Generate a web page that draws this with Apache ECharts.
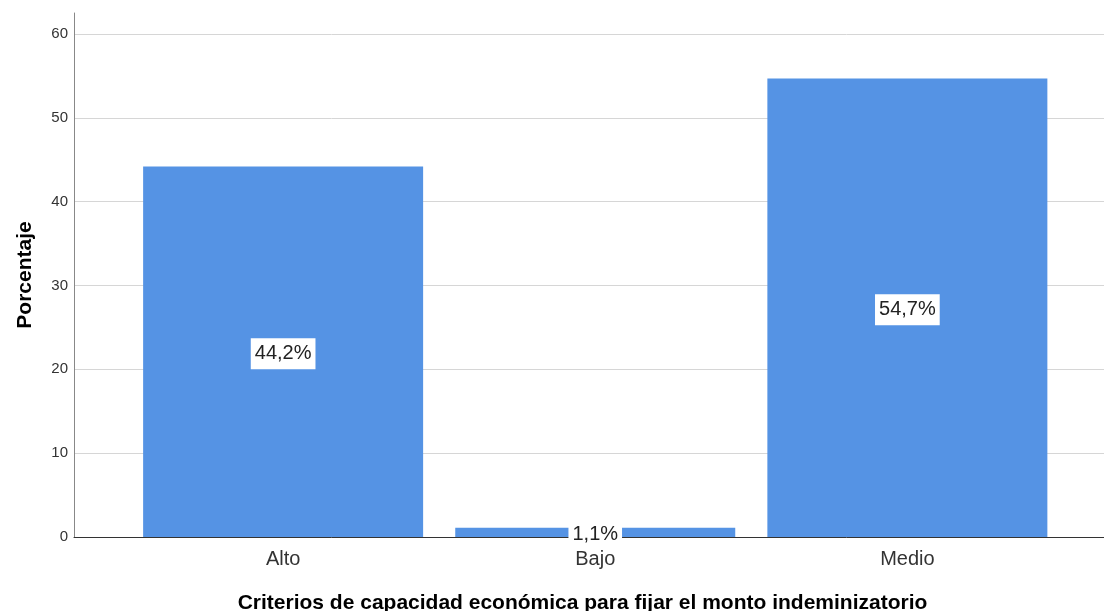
<!DOCTYPE html>
<html>
<head>
<meta charset="utf-8">
<script src="https://cdn.jsdelivr.net/npm/echarts@6/dist/echarts.min.js"></script>
<style>html,body{margin:0;padding:0;background:#fff}#c{width:1104px;height:611px}</style>
</head>
<body>
<div id="c"></div>
<script>
const categories = ['Alto', 'Bajo', 'Medio'];
const percentages = [44.2, 1.1, 54.7];
const yTicks = [0, 10, 20, 30, 40, 50, 60];
const xTitle = 'Criterios de capacidad económica para fijar el monto indeminizatorio';
const yTitle = 'Porcentaje';

const chart = echarts.init(document.getElementById('c'));
const positions = categories.map((_, i) => i);
chart.setOption({
  animation: false,
  grid: { left: 74, right: 0, top: 13, bottom: 74, containLabel: false, outerBoundsMode: 'none' },
  xAxis: {
    type: 'value', min: -0.67, max: 2.63,
    name: xTitle, nameLocation: 'middle', nameGap: 56,
    nameTextStyle: { fontFamily: 'Liberation Sans, Arial', fontWeight: 'bold', fontSize: 21, color: '#000', padding: [0, 13, 0, 0] },
    axisLine: { show: true, onZero: false, lineStyle: { color: '#333', width: 1 } },
    axisTick: { show: false },
    splitLine: { show: false },
    axisLabel: {
      customValues: positions,
      formatter: v => categories[Math.round(v)],
      fontFamily: 'Liberation Sans, Arial', fontSize: 20, color: '#333', margin: 12
    }
  },
  yAxis: {
    type: 'value', min: 0, max: 62.5, interval: 10,
    name: yTitle, nameLocation: 'middle', nameGap: 38, nameRotate: 90,
    nameTextStyle: { fontFamily: 'Liberation Sans, Arial', fontWeight: 'bold', fontSize: 21, color: '#000' },
    axisLine: { show: true, onZero: false, lineStyle: { color: '#888', width: 1 } },
    axisTick: { show: false },
    axisLabel: { showMaxLabel: false, fontFamily: 'Liberation Sans, Arial', fontSize: 15, color: '#333', margin: 6 },
    splitLine: { show: true, lineStyle: { color: ['#d6d6d6','#d6d6d6','#d6d6d6','#d6d6d6','#d6d6d6','#d6d6d6','#d6d6d6','rgba(0,0,0,0)'], width: 1 } }
  },
  series: [{
    type: 'bar',
    barWidth: 280,
    data: percentages.map((v, i) => [positions[i], v]),
    itemStyle: { color: '#5593E4' },
    label: {
      show: true, position: 'inside', offset: [0, 2],
      formatter: p => p.value[1].toFixed(1).replace('.', ',') + '%',
      fontFamily: 'Liberation Sans, Arial', fontSize: 20, color: '#222',
      backgroundColor: '#fff', padding: [6, 4, 5, 4]
    },
    z: 3
  }]
});
</script>
</body>
</html>
